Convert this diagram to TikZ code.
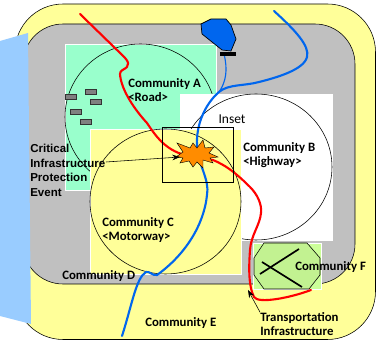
\documentclass[tikz,border=0pt]{standalone}
\usepackage{fontspec}
\usetikzlibrary{arrows.meta}
\setmainfont{Carlito}
\newfontfamily\arialfont{Liberation Sans}
\definecolor{paleyellow}{HTML}{FFFF99}
\definecolor{palegray}{HTML}{C0C0C0}
\definecolor{seagreen}{HTML}{99FFCC}
\definecolor{skyblue}{HTML}{99CCFF}
\definecolor{leafgreen}{HTML}{CCFF99}
\definecolor{riverblue}{HTML}{0066EE}
\tikzset{
  community/.style={anchor=west,inner sep=0pt,align=left,font=\fontsize{9.1}{9.96}\selectfont\bfseries},
  labelsans/.style={anchor=west,inner sep=0pt,align=left,font=\arialfont\fontsize{8.2}{10.4}\selectfont\bfseries},
  zone/.style={draw=white,line width=0.5pt},
  house/.style={draw=black!80,fill=black!50,line width=0.4pt},
  river/.style={line width=1.5pt,line cap=round},
  pointer/.style={-{Stealth[length=5.5pt,width=4pt]},line width=0.4pt}
}
\begin{document}
\begin{tikzpicture}[x=0.025cm,y=-0.025cm]
\useasboundingbox (0,0) rectangle (378,340);
% outer bands
\draw[fill=paleyellow,line width=0.4pt,rounded corners=1.2cm] (15,4) rectangle (375.5,339.5);
\fill[palegray,rounded corners=1cm] (23,24) rectangle (355,284);
\draw[line width=0.4pt,rounded corners=1cm] (23,24) rectangle (355,284);
\fill[skyblue] (0,41) -- (28,33) -- (31,324) -- (0,316) -- cycle;
% communities
\draw[zone,fill=seagreen] (65,44) rectangle (216,190);
\draw[line width=0.4pt] (140.5,117) ellipse (75.5 and 73);
\foreach \hx/\hy in {65/94,85/89,90/99,70/109,80/119}
  \draw[house] (\hx,\hy) rectangle ++(11,5.5);
\draw[zone,fill=white] (180,94) rectangle (332,240);
\draw[line width=0.4pt] (256,167) ellipse (76 and 73);
\draw[zone,fill=paleyellow] (90,129) rectangle (241,274);
\draw[line width=0.4pt] (165.5,201.5) ellipse (75.5 and 72.5);
\draw[zone,fill=leafgreen] (253,243) rectangle (321,289);
\draw[fill=leafgreen!95!black,line width=0.4pt] (264,243) -- (307,243) -- (320,258) -- (320,275) -- (309,289) -- (264,289) -- (254,275) -- (254,258) -- cycle;
\draw[line width=1.2pt] (299,249) -- (260,274);
\draw[line width=1.2pt] (262,262) -- (302,287);
% rivers
\draw[riverblue,line width=0.8pt] (224,54) .. controls (228,70) and (226,82) .. (219,92);
\draw[riverblue,river] (274,11) .. controls (295,30) and (310,46) .. (307,57)
  .. controls (304,70) and (275,78) .. (259,82)
  .. controls (245,86) and (228,84) .. (219,92)
  .. controls (205,104) and (196,125) .. (197,145)
  .. controls (198,165) and (210,180) .. (207,195)
  .. controls (204,225) and (185,255) .. (157,275)
  .. controls (152,276) and (150,271) .. (146,272)
  .. controls (136,278) and (132,305) .. (122,336);
\draw[red,river] (80,14) -- (117,50) .. controls (124,57) and (131,62) .. (127,67)
  .. controls (124,70) and (120,70) .. (120,74)
  .. controls (121,90) and (135,110) .. (147,123)
  .. controls (155,135) and (165,150) .. (185,155)
  -- (213,160) .. controls (225,165) and (235,172) .. (250,187)
  .. controls (258,195) and (262,205) .. (261,213)
  .. controls (260,225) and (251,235) .. (250,250)
  .. controls (249,265) and (248,285) .. (254,297)
  .. controls (258,304) and (290,298) .. (311,290);
% dam
\draw[fill=riverblue,line width=0.5pt] (201,24) -- (211,19) -- (226,19) -- (231,25) -- (236,39) -- (231,51) -- (222,50) -- (202,34) -- cycle;
\draw[line width=3pt] (220,54) -- (236,54);
% inset and event
\draw[line width=0.5pt] (162,127) rectangle (233,182);
\node[inner sep=0pt] (inset) at (232,119) {\fontsize{9.6}{10}\selectfont Inset};
\draw[fill=orange!90!yellow,line width=0.3pt] (177,143) -- (190,148) -- (193,143) -- (197,148) -- (203,140) -- (205,148) -- (214,147) -- (209,153) -- (218,157) -- (210,158) -- (213,163) -- (203,160) -- (203,168) -- (197,162) -- (193,167) -- (189,161) -- (180,163) -- (183,158) -- (176,157) -- (183,152) -- cycle;
\coordinate (burst) at (180,157);
\coordinate (bridge) at (248,290);
% labels
\node[community] (communitya) at (128,90) {Community A\\<Road>};
\node[community] (communityb) at (243,155) {Community B\\<Highway>};
\node[community] (communityc) at (102,230) {Community C\\<Motorway>};
\node[community] (communityd) at (62,276) {Community D};
\node[community] (communitye) at (145,323) {Community E};
\node[community] (communityf) at (295,267) {Community F};
\node[community] (transport) at (260,324) {Transportation\\Infrastructure};
\node[labelsans] (event) at (30,170.5) {Critical\\Infrastructure\\Protection\\Event};
\draw[pointer] (106,162) -- (burst);
\draw[pointer] (transport.north west) -- (bridge);
\end{tikzpicture}
\end{document}
